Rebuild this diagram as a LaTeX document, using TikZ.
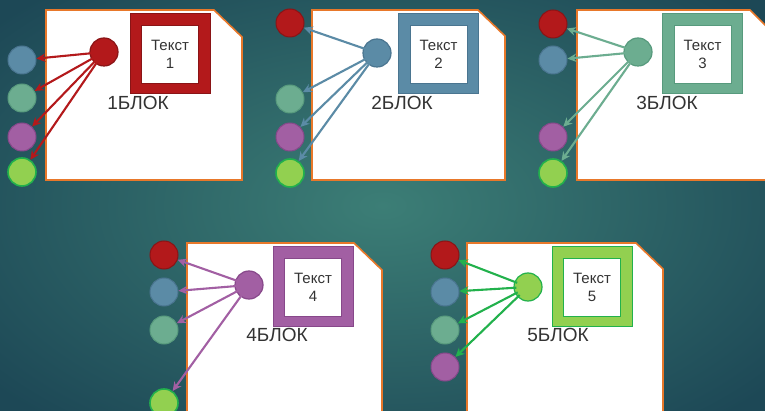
\documentclass[tikz,border=0pt]{standalone}
\usepackage{fontspec}
\setmainfont{Liberation Sans}
\usetikzlibrary{arrows.meta}
\definecolor{bgin}{HTML}{3C7E76}
\definecolor{bgout}{HTML}{1D4856}
\definecolor{cred}{HTML}{B3191B}\definecolor{ered}{HTML}{8A1416}
\definecolor{cblue}{HTML}{5B8BA6}\definecolor{eblue}{HTML}{4A7590}
\definecolor{cgreen}{HTML}{6CAD90}\definecolor{egreen}{HTML}{579A7D}
\definecolor{cpurp}{HTML}{A25FA3}\definecolor{epurp}{HTML}{87488A}
\definecolor{clime}{HTML}{92D050}\definecolor{elime}{HTML}{22B14C}
\definecolor{corange}{HTML}{E8782A}
\definecolor{ctext}{HTML}{333333}
\tikzset{
  card/.style={fill=white,draw=corange,line width=1.6pt},
  dotnode/.style={circle,minimum size=28pt,inner sep=0pt,line width=1pt},
  hubnode/.style={circle,minimum size=28pt,inner sep=0pt,line width=1.2pt},
  frameout/.style={minimum width=80pt,minimum height=80pt,inner sep=0pt,line width=0.8pt},
  framein/.style={fill=white,minimum width=57pt,minimum height=58pt,inner sep=0pt,line width=0.8pt,
     font=\fontsize{15}{18}\selectfont,text=ctext,align=center},
  blabel/.style={font=\fontsize{19}{22}\selectfont,text=ctext,inner sep=0pt},
  arr/.style={-{Stealth[length=9pt,width=8.5pt]},line width=2.1pt,shorten <=-3pt},
  red/.style={dotnode,fill=cred,draw=ered},
  blue/.style={dotnode,fill=cblue,draw=eblue},
  green/.style={dotnode,fill=cgreen,draw=egreen},
  purp/.style={dotnode,fill=cpurp,draw=epurp},
  lime/.style={dotnode,fill=clime,draw=elime,line width=1.6pt},
}
\begin{document}
\begin{tikzpicture}[x=1pt,y=-1pt]
\useasboundingbox (0,0) rectangle (765,411);
\shade[inner color=bgin,outer color=bgout] (-120,-80) rectangle (885,491);
% ---------- cards
\draw[card] (46,10) -- (214,10) -- (242,37) -- (242,180) -- (46,180) -- cycle;
\draw[card] (312,10) -- (478,10) -- (505,36) -- (505,180) -- (312,180) -- cycle;
\draw[card] (577,10) -- (750,10) -- (776,36) -- (776,180) -- (577,180) -- cycle;
\draw[card] (187,243) -- (354,243) -- (382,270) -- (382,425) -- (187,425) -- cycle;
\draw[card] (467,243) -- (636,243) -- (663,269) -- (663,425) -- (467,425) -- cycle;
% ---------- block 1
\node[frameout,fill=cred,draw=ered] (f1) at (170,53) {};
\node[framein,draw=ered] (t1) at (170,54) {Текст\\1};
\node[blabel] (l1) at (138,103) {1БЛОК};
\node[blue]  (d1b) at (22,60) {};
\node[green] (d1g) at (22,98) {};
\node[purp]  (d1p) at (22,137) {};
\node[lime]  (d1l) at (22,172) {};
\node[hubnode,fill=cred,draw=ered] (h1) at (104,52) {};
\foreach \d in {d1b,d1g,d1p,d1l} \draw[arr,cred] (h1) -- (\d);
% ---------- block 2
\node[frameout,fill=cblue,draw=eblue] (f2) at (438.5,53) {};
\node[framein,draw=eblue] (t2) at (438.5,54) {Текст\\2};
\node[blabel] (l2) at (402,103) {2БЛОК};
\node[red]   (d2r) at (290,23) {};
\node[green] (d2g) at (290,99) {};
\node[purp]  (d2p) at (290,137) {};
\node[lime]  (d2l) at (290,173) {};
\node[hubnode,fill=cblue,draw=eblue] (h2) at (377,53) {};
\foreach \d in {d2r,d2g,d2p,d2l} \draw[arr,cblue] (h2) -- (\d);
% ---------- block 3
\node[frameout,fill=cgreen,draw=egreen] (f3) at (702.5,53) {};
\node[framein,draw=egreen] (t3) at (702.5,54) {Текст\\3};
\node[blabel] (l3) at (667,103) {3БЛОК};
\node[red]   (d3r) at (553,24) {};
\node[blue]  (d3b) at (553,60) {};
\node[purp]  (d3p) at (553,137) {};
\node[lime]  (d3l) at (553,173) {};
\node[hubnode,fill=cgreen,draw=egreen] (h3) at (638,52) {};
\foreach \d in {d3r,d3b,d3p,d3l} \draw[arr,cgreen] (h3) -- (\d);
% ---------- block 4
\node[frameout,fill=cpurp,draw=epurp] (f4) at (313,286.5) {};
\node[framein,draw=epurp] (t4) at (313,287.5) {Текст\\4};
\node[blabel] (l4) at (277,335) {4БЛОК};
\node[red]   (d4r) at (164,255) {};
\node[blue]  (d4b) at (164,292) {};
\node[green] (d4g) at (164,330) {};
\node[lime]  (d4l) at (164,403) {};
\node[hubnode,fill=cpurp,draw=epurp] (h4) at (249,285) {};
\foreach \d in {d4r,d4b,d4g,d4l} \draw[arr,cpurp] (h4) -- (\d);
% ---------- block 5
\node[frameout,fill=clime,draw=elime] (f5) at (592,286) {};
\node[framein,draw=elime] (t5) at (592,287) {Текст\\5};
\node[blabel] (l5) at (558,335) {5БЛОК};
\node[red]   (d5r) at (445,255) {};
\node[blue]  (d5b) at (445,292) {};
\node[green] (d5g) at (445,330) {};
\node[purp]  (d5p) at (445,367) {};
\node[hubnode,fill=clime,draw=elime] (h5) at (528,287) {};
\foreach \d in {d5r,d5b,d5g,d5p} \draw[arr,elime] (h5) -- (\d);
\end{tikzpicture}
\end{document}
